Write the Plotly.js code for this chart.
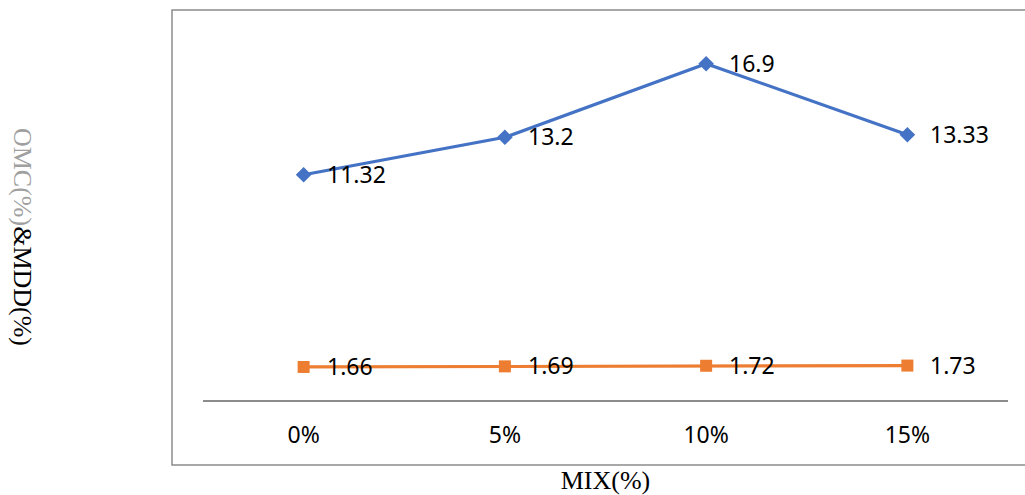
<!DOCTYPE html>
<html><head><meta charset="utf-8">
<script src="https://cdn.plot.ly/plotly-3.0.1.min.js"></script>
<style>html,body{margin:0;padding:0;background:#fff;}</style>
</head><body>
<div id="chart" style="width:1025px;height:495px;"></div>
<script>
const categories = ["0%", "5%", "10%", "15%"];
const omc = [11.32, 13.2, 16.9, 13.33];
const mdd = [1.66, 1.69, 1.72, 1.73];

const labelFont = {family: "Noto Sans, Liberation Sans, sans-serif", size: 23, color: "#000"};
const serif = "Liberation Serif, Times New Roman, serif";
const annotations = [];
[omc, mdd].forEach(series => {
  series.forEach((v, i) => {
    annotations.push({x: categories[i], y: v, xref: "x", yref: "y", text: String(v),
      showarrow: false, xanchor: "left", yanchor: "middle", xshift: 21, yshift: 1, font: labelFont});
  });
});
annotations.push({xref: "paper", yref: "paper", x: -0.225, y: 0.41, xanchor: "center", yanchor: "middle",
  textangle: 90, showarrow: false,
  text: "<span style='color:#a0a0a0'>OMC(%)</span>&MDD(%)", font: {family: serif, size: 26, color: "#000"}});

const traces = [
  {x: categories, y: omc, type: "scatter", mode: "lines+markers", name: "OMC",
   line: {color: "#4472C4", width: 3.2}, marker: {symbol: "diamond", size: 12, color: "#4472C4"}},
  {x: categories, y: mdd, type: "scatter", mode: "lines+markers", name: "MDD",
   line: {color: "#ED7D31", width: 3.2}, marker: {symbol: "square", size: 12, color: "#ED7D31"}}
];

const layout = {
  width: 1025, height: 495,
  margin: {l: 203, r: 17, t: 2, b: 95},
  paper_bgcolor: "#fff", plot_bgcolor: "#fff",
  showlegend: false,
  xaxis: {type: "category", range: [-0.5, 3.5], showgrid: false, zeroline: false,
    showline: true, linecolor: "#8c8c8c", linewidth: 1.5, ticks: "", ticklabelstandoff: 14,
    tickfont: labelFont,
    title: {text: "MIX(%)", font: {family: serif, size: 26, color: "#000"}, standoff: 45}},
  yaxis: {range: [0, 20], showgrid: false, zeroline: false, showline: false, showticklabels: false, ticks: ""},
  shapes: [{type: "rect", xref: "paper", yref: "paper", x0: -0.0385, x1: 1.03, y0: -0.1633, y1: 0.98,
    line: {color: "#8c8c8c", width: 1.5}, fillcolor: "rgba(0,0,0,0)", layer: "below"}],
  annotations: annotations
};

Plotly.newPlot("chart", traces, layout, {displayModeBar: false, staticPlot: true});
</script>
</body></html>
